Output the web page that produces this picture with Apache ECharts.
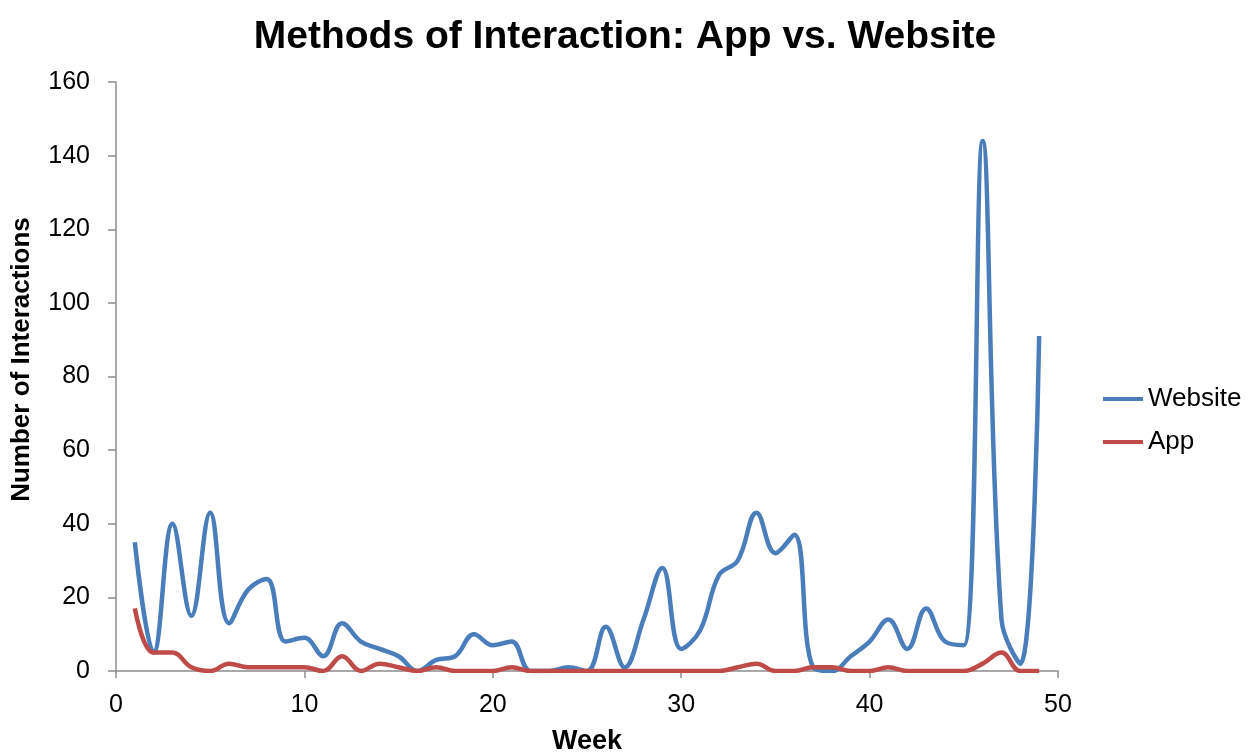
<!DOCTYPE html>
<html>
<head>
<meta charset="utf-8">
<title>Methods of Interaction: App vs. Website</title>
<script src="https://cdn.jsdelivr.net/npm/echarts@6/dist/echarts.min.js"></script>
<style>
    html, body { margin: 0; padding: 0; background: #fff; }
    #chart { width: 1250px; height: 754px; }
</style>
</head>
<body>
<div id="chart"></div>
<script>
// 周次
const weeks = [
    1, 2, 3, 4, 5, 6, 7, 8, 9, 10,
    11, 12, 13, 14, 15, 16, 17, 18, 19, 20,
    21, 22, 23, 24, 25, 26, 27, 28, 29, 30,
    31, 32, 33, 34, 35, 36, 37, 38, 39, 40,
    41, 42, 43, 44, 45, 46, 47, 48, 49
];

// 网站互动次数
const websiteValues = [
    35, 5, 40, 15, 43, 13, 22, 25, 8, 9,
    4, 13, 8, 6, 4, 0, 3, 4, 10, 7,
    8, 0, 0, 1, 0, 12, 1, 14, 28, 6,
    11, 26, 30, 43, 32, 37, 1, 0, 4, 8,
    14, 6, 17, 8, 7, 144, 14, 2, 91
];

// App互动次数
const appValues = [
    17, 5, 5, 1, 0, 2, 1, 1, 1, 1,
    0, 4, 0, 2, 1, 0, 1, 0, 0, 0,
    1, 0, 0, 0, 0, 0, 0, 0, 0, 0,
    0, 0, 1, 2, 0, 0, 1, 1, 0, 0,
    1, 0, 0, 0, 0, 2, 5, 0, 0
];

const seriesNames = ['Website', 'App'];

const themeColors = {
    website: '#4a7ebb',
    app: '#be4b48',
    axis: '#8c8c8c',
    text: '#000000'
};

const fontFamily = 'Liberation Sans, Arial, sans-serif';

function toPairs(values) {
    return weeks.map((w, i) => [w, values[i]]);
}

function initChart() {
    const chart = echarts.init(document.getElementById('chart'));

    const option = {
        animation: false,
        backgroundColor: '#fff',
        title: {
            text: 'Methods of Interaction: App vs. Website',
            left: 'center',
            top: 13,
            textStyle: {
                fontFamily: fontFamily,
                fontSize: 39,
                fontWeight: 'bold',
                color: themeColors.text
            }
        },
        legend: {
            orient: 'vertical',
            left: 1103,
            top: 386,
            padding: 0,
            itemWidth: 40,
            itemHeight: 4,
            itemGap: 17,
            icon: 'rect',
            data: seriesNames,
            textStyle: {
                fontFamily: fontFamily,
                fontSize: 26,
                lineHeight: 26,
                color: themeColors.text
            }
        },
        grid: {
            left: 116,
            right: 192,
            top: 82,
            bottom: 83,
            outerBoundsMode: 'none'
        },
        xAxis: {
            type: 'value',
            min: 0,
            max: 50,
            interval: 10,
            name: 'Week',
            nameLocation: 'middle',
            nameGap: 57,
            nameTextStyle: {
                fontFamily: fontFamily,
                fontSize: 27,
                fontWeight: 'bold',
                color: themeColors.text
            },
            axisLine: { lineStyle: { color: themeColors.axis, width: 1.5 } },
            axisTick: { show: true, length: 7, lineStyle: { color: themeColors.axis, width: 1.5 } },
            axisLabel: {
                fontFamily: fontFamily,
                fontSize: 25,
                color: themeColors.text,
                margin: 22
            },
            splitLine: { show: false }
        },
        yAxis: {
            type: 'value',
            min: 0,
            max: 160,
            interval: 20,
            name: 'Number of Interactions',
            nameLocation: 'middle',
            nameGap: 81,
            nameTextStyle: {
                fontFamily: fontFamily,
                fontSize: 26,
                fontWeight: 'bold',
                color: themeColors.text,
                padding: [0, 0, 0, 34]
            },
            axisLine: { show: true, lineStyle: { color: themeColors.axis, width: 1.5 } },
            axisTick: { show: true, length: 8, lineStyle: { color: themeColors.axis, width: 1.5 } },
            axisLabel: {
                fontFamily: fontFamily,
                fontSize: 25,
                color: themeColors.text,
                margin: 26
            },
            splitLine: { show: false }
        },
        series: [
            {
                name: 'Website',
                type: 'line',
                data: toPairs(websiteValues),
                smooth: 0.4,
                showSymbol: false,
                lineStyle: { color: themeColors.website, width: 4.5 },
                itemStyle: { color: themeColors.website },
                z: 2
            },
            {
                name: 'App',
                type: 'line',
                data: toPairs(appValues),
                smooth: 0.4,
                showSymbol: false,
                lineStyle: { color: themeColors.app, width: 4.5 },
                itemStyle: { color: themeColors.app },
                z: 3
            }
        ]
    };
    chart.setOption(option);
}

document.addEventListener('DOMContentLoaded', initChart);
</script>
</body>
</html>
